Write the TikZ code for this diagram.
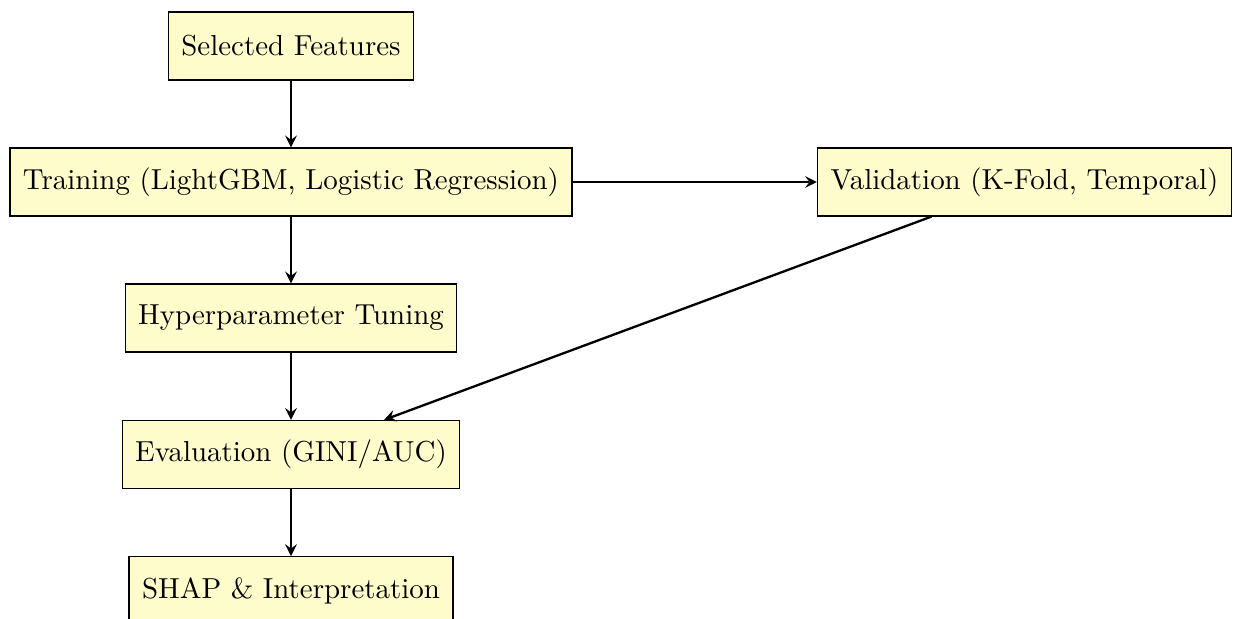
\documentclass[tikz,border=0pt]{standalone}
\usetikzlibrary{arrows}
\begin{document}
\begin{tikzpicture}[x=0.3457pt,y=-0.3457pt,
  stepbox/.style={draw, fill=yellow!20, rectangle, minimum height=23.5pt,
    inner xsep=4.5pt, font=\normalsize},
  flow/.style={->, >=stealth, thick}]
\useasboundingbox (0,0) rectangle (1233,619);
\node[stepbox] (sel)   at (291,46)     {Selected Features};
\node[stepbox] (train) at (291,182)    {Training (LightGBM, Logistic Regression)};
\node[stepbox] (val)   at (1024.5,182) {Validation (K-Fold, Temporal)};
\node[stepbox] (hyp)   at (291,318)    {Hyperparameter Tuning};
\node[stepbox] (eval)  at (291,454.5)  {Evaluation (GINI/AUC)};
\node[stepbox] (shap)  at (291,590.7)  {SHAP \& Interpretation};
\draw[flow] (sel) -- (train);
\draw[flow] (train) -- (val);
\draw[flow] (train) -- (hyp);
\draw[flow] (hyp) -- (eval);
\draw[flow] (val) -- (eval);
\draw[flow] (eval) -- (shap);
\end{tikzpicture}
\end{document}
